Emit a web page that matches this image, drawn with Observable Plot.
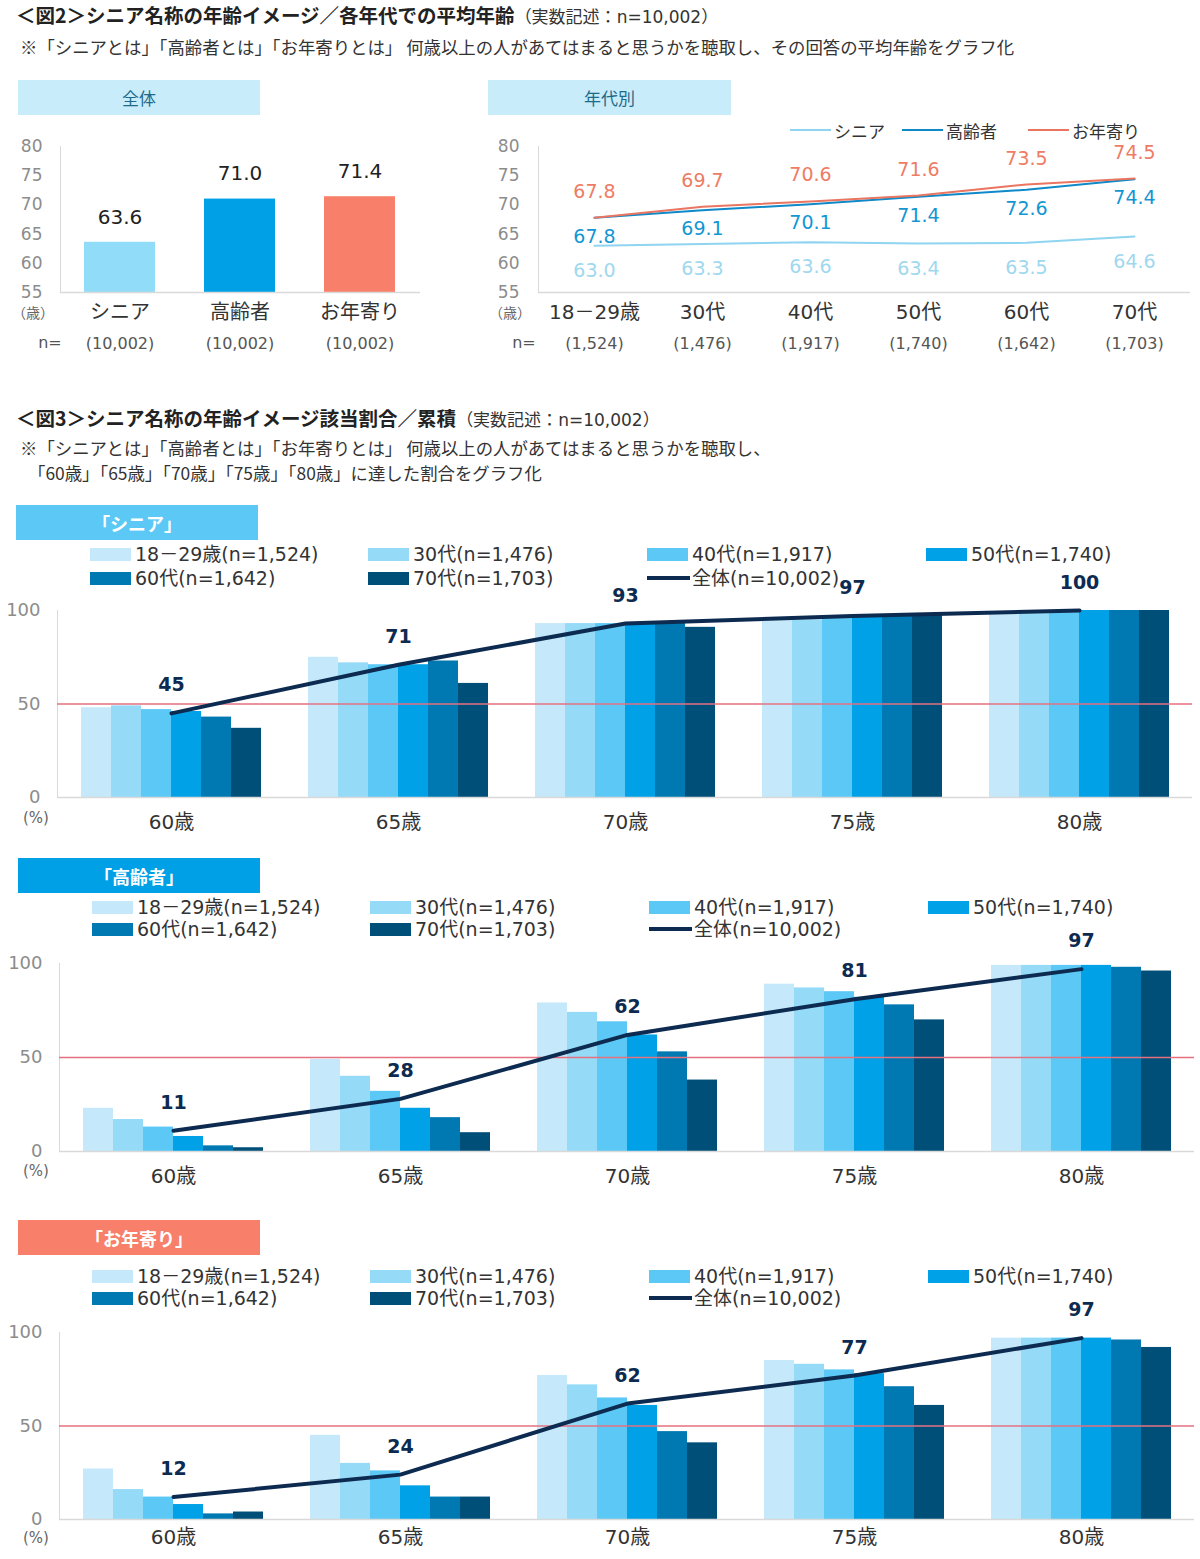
<!DOCTYPE html>
<html><head><meta charset="utf-8">
<script src="https://cdn.jsdelivr.net/npm/d3@7"></script>
<script src="https://cdn.jsdelivr.net/npm/@observablehq/plot@0.6"></script>
<style>
html,body{margin:0;padding:0;background:#fff;}
body{font-family:"DejaVu Sans","Noto Sans CJK JP",sans-serif;color:#333;}
#root{position:relative;width:1200px;height:1559px;overflow:hidden;background:#fff;}
.abs{position:absolute;white-space:nowrap;line-height:1;}
.jp{font-family:"Noto Sans CJK JP",sans-serif;}
.lat{font-family:"DejaVu Sans","Noto Sans CJK JP",sans-serif;}
.plotwrap{position:absolute;}
.plotwrap svg{overflow:visible;}
.plotwrap svg g[aria-label^="y-axis"] text{fill:#8c8c8c;}
.top svg g[aria-label^="y-axis"] text{font-size:17px;}
.bottom svg g[aria-label^="y-axis"] text{font-size:18px;}
.plotwrap svg g[aria-label^="y-axis"] path,.plotwrap svg g[aria-label^="y-axis"] line{stroke:#d9d9d9;}
</style></head>
<body><div id="root"></div>
<script>
// ---------------- DATA ----------------
const overallCats = ["シニア", "高齢者", "お年寄り"];
const overallValues = [63.6, 71.0, 71.4];
const overallN = ["10,002", "10,002", "10,002"];

const ageGroups = ["18－29歳", "30代", "40代", "50代", "60代", "70代"];
const ageGroupN = ["1,524", "1,476", "1,917", "1,740", "1,642", "1,703"];
const totalN = "10,002";

const seniorAvg = [63.0, 63.3, 63.6, 63.4, 63.5, 64.6];
const elderlyAvg = [67.8, 69.1, 70.1, 71.4, 72.6, 74.4];
const otoshiyoriAvg = [67.8, 69.7, 70.6, 71.6, 73.5, 74.5];
const yTicksAvg = [55, 60, 65, 70, 75, 80];

const thresholds = ["60歳", "65歳", "70歳", "75歳", "80歳"];
const yTicksShare = [0, 50, 100];

// rows = thresholds, columns = age groups
const seniorShare = [
  [48, 49, 47, 46, 43, 37],
  [75, 72, 71, 71, 73, 61],
  [93, 93, 93, 93, 94, 91],
  [95, 95, 96, 97, 97, 98],
  [98, 99, 99, 100, 100, 100]
];
const seniorTotal = [45, 71, 93, 97, 100];

const elderlyShare = [
  [23, 17, 13, 8, 3, 2],
  [49, 40, 32, 23, 18, 10],
  [79, 74, 69, 62, 53, 38],
  [89, 87, 85, 82, 78, 70],
  [99, 99, 99, 99, 98, 96]
];
const elderlyTotal = [11, 28, 62, 81, 97];

const otoshiyoriShare = [
  [27, 16, 12, 8, 3, 4],
  [45, 30, 26, 18, 12, 12],
  [77, 72, 65, 61, 47, 41],
  [85, 83, 80, 78, 71, 61],
  [97, 97, 97, 97, 96, 92]
];
const otoshiyoriTotal = [12, 24, 62, 77, 97];

// ---------------- STYLE ----------------
const FONT = '"DejaVu Sans","Noto Sans CJK JP",sans-serif';
const overallColors = ["#90dcf9", "#00a0e6", "#f8806a"];
const lineColors = {senior: "#8fd4f0", elderly: "#1089c9", otoshiyori: "#ea7560"};
const labelColors = {senior: "#9fd8ee", elderly: "#1396d3", otoshiyori: "#ee7c64"};
const groupColors = ["#c5e9fa", "#95daf7", "#5bc8f5", "#00a1e6", "#0078b1", "#004f78"];
const navy = "#0d2b50";
const refRed = "#e57080";

const root = document.getElementById("root");

function addText(html, x, y, o = {}) {
  const d = document.createElement("div");
  d.className = "abs" + (o.jp ? " jp" : "");
  d.innerHTML = html;
  const tx = o.anchor === "middle" ? "-50%" : o.anchor === "end" ? "-100%" : "0";
  d.style.left = x + "px";
  d.style.top = y + "px";
  d.style.fontSize = (o.size || 17) + "px";
  d.style.fontWeight = o.weight || 400;
  d.style.color = o.color || "#333";
  d.style.transform = `translate(${tx},-50%)`;
  root.appendChild(d);
  return d;
}
function addBox(x, y, w, h, bg, text, o = {}) {
  const d = document.createElement("div");
  d.className = "abs jp";
  d.style.cssText = `left:${x}px;top:${y}px;width:${w}px;height:${h}px;background:${bg};display:flex;align-items:center;justify-content:center;font-size:${o.size || 17}px;font-weight:${o.weight || 400};color:${o.color || "#333"};`;
  d.textContent = text;
  root.appendChild(d);
}
function addSwatch(x, y, w, h, color) {
  const d = document.createElement("div");
  d.className = "abs";
  d.style.cssText = `left:${x}px;top:${y - h / 2}px;width:${w}px;height:${h}px;background:${color};`;
  root.appendChild(d);
}
function place(svg, left, top, cls) {
  const w = document.createElement("div");
  w.className = "plotwrap " + cls;
  w.style.left = left + "px";
  w.style.top = top + "px";
  w.appendChild(svg);
  root.appendChild(w);
}

const sub = '<span style="font-size:17px;color:#333">（実数記述：<span class="lat">n=10,002</span>）</span>';

// ---------------- HEADERS (図2) ----------------
addText('<span style="font-weight:700;font-size:19.5px;color:#222">＜図2＞シニア名称の年齢イメージ／各年代での平均年齢</span>' + sub, 16, 15, {jp: true});
addText("※「シニアとは」「高齢者とは」「お年寄りとは」 何歳以上の人があてはまると思うかを聴取し、その回答の平均年齢をグラフ化", 20, 47, {jp: true, size: 17.4});
addBox(18, 80, 242, 35, "#c9ecfb", "全体", {color: "#1d6b8a", size: 17});
addBox(488, 80, 243, 35, "#c9ecfb", "年代別", {color: "#1d6b8a", size: 17});

// ---------------- 図2 左: 全体 ----------------
const avgDomain = [yTicksAvg[0], yTicksAvg[yTicksAvg.length - 1]];
const overallRows = overallCats.map((c, i) => ({cat: c, value: overallValues[i], n: overallN[i]}));
const topStyle = {background: "transparent", fontFamily: FONT, fontSize: "17px", color: "#d9d9d9", overflow: "visible"};

const pOverall = Plot.plot({
  width: 440, height: 236, marginTop: 20, marginBottom: 70, marginLeft: 60, marginRight: 20,
  style: topStyle,
  x: {domain: overallCats, paddingInner: 0.408, paddingOuter: 0.204, axis: null},
  y: {domain: avgDomain, ticks: yTicksAvg, tickSize: 0, tickPadding: 18, line: true, label: null},
  color: {domain: overallCats, range: overallColors},
  marks: [
    Plot.barY(overallRows, {x: "cat", y1: () => avgDomain[0], y2: "value", fill: "cat"}),
    Plot.ruleY([avgDomain[0]], {stroke: "#d9d9d9", strokeWidth: 1.5}),
    Plot.text(overallRows, {x: "cat", y: "value", text: d => d.value.toFixed(1), dy: -25, fontSize: 20, fill: "#222"}),
    Plot.text(overallRows, {x: "cat", text: "cat", frameAnchor: "bottom", dy: 26, fontSize: 20, fill: "#333"}),
    Plot.text(overallRows, {x: "cat", text: d => `(${d.n})`, frameAnchor: "bottom", dy: 56, fontSize: 16, fill: "#555"})
  ]
});
place(pOverall, 0, 126, "top");
addText("（歳）", 33, 312, {jp: true, size: 14, color: "#666", anchor: "middle"});
addText("n=", 50, 343, {size: 16, color: "#555", anchor: "middle"});

// ---------------- 図2 右: 年代別 ----------------
const seriesDefs = [
  {key: "senior", values: seniorAvg, dy: 25},
  {key: "elderly", values: elderlyAvg, dy: 19},
  {key: "otoshiyori", values: otoshiyoriAvg, dy: -26}
];
const pAge = Plot.plot({
  width: 720, height: 236, marginTop: 20, marginBottom: 70, marginLeft: 58, marginRight: 10,
  style: topStyle,
  x: {type: "point", domain: ageGroups, padding: 0.5, axis: null},
  y: {domain: avgDomain, ticks: yTicksAvg, tickSize: 0, tickPadding: 19, line: true, label: null},
  marks: [
    Plot.ruleY([avgDomain[0]], {stroke: "#d9d9d9", strokeWidth: 1.5}),
    ...seriesDefs.map(s => Plot.lineY(s.values, {x: ageGroups, y: d => d, stroke: lineColors[s.key], strokeWidth: 2})),
    ...seriesDefs.map(s => Plot.text(s.values, {x: ageGroups, y: d => d, text: d => d.toFixed(1), dy: s.dy, fontSize: 19, fill: labelColors[s.key]})),
    Plot.text(ageGroups, {x: d => d, text: d => d, frameAnchor: "bottom", dy: 26, fontSize: 20, fill: "#333"}),
    Plot.text(ageGroupN, {x: (d, i) => ageGroups[i], text: d => `(${d})`, frameAnchor: "bottom", dy: 56, fontSize: 16, fill: "#555"})
  ]
});
place(pAge, 480, 126, "top");
addText("（歳）", 510, 312, {jp: true, size: 14, color: "#666", anchor: "middle"});
addText("n=", 524, 343, {size: 16, color: "#555", anchor: "middle"});
// legend
[["senior", "シニア", 790], ["elderly", "高齢者", 902], ["otoshiyori", "お年寄り", 1028]].forEach(([k, name, x]) => {
  addSwatch(x, 130, 41, 2, lineColors[k]);
  addText(name, x + 44, 130, {jp: true, size: 17, color: "#333"});
});

// ---------------- HEADERS (図3) ----------------
addText('<span style="font-weight:700;font-size:19.5px;color:#222">＜図3＞シニア名称の年齢イメージ該当割合／累積</span>' + sub, 16, 418, {jp: true});
addText("※「シニアとは」「高齢者とは」「お年寄りとは」 何歳以上の人があてはまると思うかを聴取し、", 20, 448, {jp: true, size: 17.4});
addText("「60歳」「65歳」「70歳」「75歳」「80歳」に達した割合をグラフ化", 28, 473, {jp: true, size: 17.4});

// ---------------- 図3 panels ----------------
const panels = [
  {name: "「シニア」", bg: "#5bc8f5", box: [16, 505], shares: seniorShare, totals: seniorTotal, legendY: [554, 578], legendX0: 90, top100: 610, base: 797, axisX: 57, right: 1192, labelDy: 31, pctDy: 21},
  {name: "「高齢者」", bg: "#00a0e6", box: [18, 858], shares: elderlyShare, totals: elderlyTotal, legendY: [907, 929], legendX0: 92, top100: 963, base: 1151, axisX: 59, right: 1194, labelDy: 31, pctDy: 20},
  {name: "「お年寄り」", bg: "#f8806a", box: [18, 1220], shares: otoshiyoriShare, totals: otoshiyoriTotal, legendY: [1276, 1298], legendX0: 92, top100: 1332, base: 1519, axisX: 59, right: 1194, labelDy: 24, pctDy: 19}
];

panels.forEach(p => {
  const mt = 45, mb = 40, ph = p.base - p.top100;
  const H = mt + ph + mb;
  const W = 1200;
  const rows = [];
  thresholds.forEach((t, i) => ageGroups.forEach((g, j) => rows.push({threshold: t, group: g, value: p.shares[i][j]})));
  const totals = thresholds.map((t, i) => ({threshold: t, value: p.totals[i]}));
  const common = {width: W, height: H, marginTop: mt, marginBottom: mb, marginLeft: p.axisX, marginRight: W - p.right};
  const bstyle = {background: "transparent", fontFamily: FONT, fontSize: "18px", color: "#d9d9d9", overflow: "visible"};

  const bars = Plot.plot({
    ...common, style: bstyle,
    facet: {data: rows, x: "threshold"},
    fx: {domain: thresholds, paddingInner: 0.2, paddingOuter: 0.1, axis: null, label: null},
    x: {domain: ageGroups, padding: 0, axis: null},
    y: {domain: [yTicksShare[0], yTicksShare[yTicksShare.length - 1]], axis: null},
    color: {domain: ageGroups, range: groupColors},
    marks: [Plot.barY(rows, {x: "group", y: "value", fill: "group"})]
  });
  place(bars, 0, p.top100 - mt, "bottom");

  const overlay = Plot.plot({
    ...common, style: bstyle,
    x: {type: "band", domain: thresholds, paddingInner: 0.2, paddingOuter: 0.1, axis: null},
    y: {domain: [yTicksShare[0], yTicksShare[yTicksShare.length - 1]], ticks: yTicksShare, tickSize: 0, tickPadding: 17, line: true, label: null},
    marks: [
      Plot.ruleY([yTicksShare[0]], {stroke: "#d9d9d9", strokeWidth: 1.5}),
      Plot.ruleY([50], {stroke: refRed, strokeWidth: 1.5}),
      Plot.line(totals, {x: "threshold", y: "value", stroke: navy, strokeWidth: 4}),
      Plot.text(totals, {x: "threshold", y: "value", text: d => String(d.value), dy: -28, fontSize: 19, fontWeight: "bold", fill: navy}),
      Plot.text(thresholds, {x: d => d, text: d => d, frameAnchor: "bottom", dy: p.labelDy, fontSize: 20, fill: "#333"})
    ]
  });
  place(overlay, 0, p.top100 - mt, "bottom");

  addBox(p.box[0], p.box[1], 242, 35, p.bg, p.name, {color: "#fff", size: 18, weight: 700});
  addText("(%)", 36, p.base + p.pctDy, {size: 15, color: "#666", anchor: "middle"});

  // legend
  const cols = [0, 278, 557, 836].map(d => p.legendX0 + d);
  const items = ageGroups.map((g, i) => ({label: `${g}(n=${ageGroupN[i]})`, color: groupColors[i], type: "rect"}));
  items.push({label: `全体(n=${totalN})`, color: navy, type: "line"});
  items.forEach((it, i) => {
    const x = cols[i % 4], y = p.legendY[Math.floor(i / 4)];
    if (it.type === "rect") addSwatch(x, y, 41, 13, it.color);
    else addSwatch(x, y, 43, 4, it.color);
    addText(it.label, x + 45, y, {size: 19, color: "#333"});
  });
});
</script>
</body></html>
